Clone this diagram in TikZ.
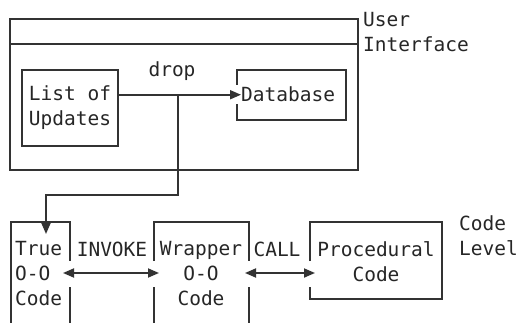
\documentclass[tikz,border=0pt]{standalone}
\usepackage{fontspec}
\setmonofont{DejaVu Sans Mono}
\usetikzlibrary{arrows.meta,positioning}
\tikzset{
  txt/.style={inner sep=0pt, font=\ttfamily\fontsize{19.5}{25}\selectfont, text=black!85},
  wall/.style={draw=black!80, line width=1.8pt},
  seg/.style={wall, rectangle, txt, inner sep=0pt, align=left},
  oneway/.style={wall, -{Triangle[length=11pt,width=9pt]}},
  twoway/.style={wall, {Triangle[length=11pt,width=9pt]}-{Triangle[length=11pt,width=9pt]}},
}
\begin{document}
\begin{tikzpicture}[x=1pt,y=-1pt]
  \useasboundingbox (0,0) rectangle (519,323);
  % user interface frame
  \draw[wall] (10,19) rectangle (358,170);
  \draw[wall] (10,44) -- (358,44);
  \node[txt, anchor=north west, align=left] (ui) at (363,12.5) {User\\Interface};
  % boxes inside the frame
  \node[seg, minimum width=96pt, minimum height=76pt] (list) at (70,108) {List of\\Updates};
  \draw[wall] (237,85) -- (237,70) -- (346,70) -- (346,120) -- (237,120) -- (237,104);
  \node[txt, anchor=base west] (db) at (241,102) {Database};
  \node[txt, anchor=base] (droplbl) at (172,77) {drop};
  % code level boxes
  \draw[wall] (11,323) -- (11,222) -- (70,222) -- (70,261);
  \draw[wall] (70,287) -- (70,323);
  \draw[wall] (154,261) -- (154,222) -- (249,222) -- (249,261);
  \draw[wall] (154,287) -- (154,323);
  \draw[wall] (249,287) -- (249,323);
  \draw[wall] (310,261) -- (310,222) -- (442,222) -- (442,299) -- (310,299) -- (310,287);
  \node[txt, anchor=north west, align=left] (truecode) at (15,241.5) {True\\O-O\\Code};
  \node[txt, anchor=north, align=center] (wrapper) at (201,241.5) {Wrapper\\O-O\\Code};
  \node[txt, anchor=north, align=center] (proc) at (376,241.5) {Procedural\\Code};
  \node[txt, anchor=base] (invoke) at (112,256) {INVOKE};
  \node[txt, anchor=base] (call) at (277,256) {CALL};
  \node[txt, anchor=north west, align=left] (codelvl) at (459,215.5) {Code\\Level};
  % connector ends
  \coordinate (dropjn) at (178,95);
  \coordinate (bend) at (46,195);
  \coordinate (truein) at (46,234);
  \coordinate (invl) at (63,273);
  \coordinate (invr) at (159,273);
  \coordinate (calll) at (245,273);
  \coordinate (callr) at (315,273);
  % edges
  \draw[oneway] (list.east |- db.west) -- (db.west);
  \draw[oneway] (dropjn) |- (bend) -- (truein);
  \draw[twoway] (invl) -- (invr);
  \draw[twoway] (calll) -- (callr);
\end{tikzpicture}
\end{document}
